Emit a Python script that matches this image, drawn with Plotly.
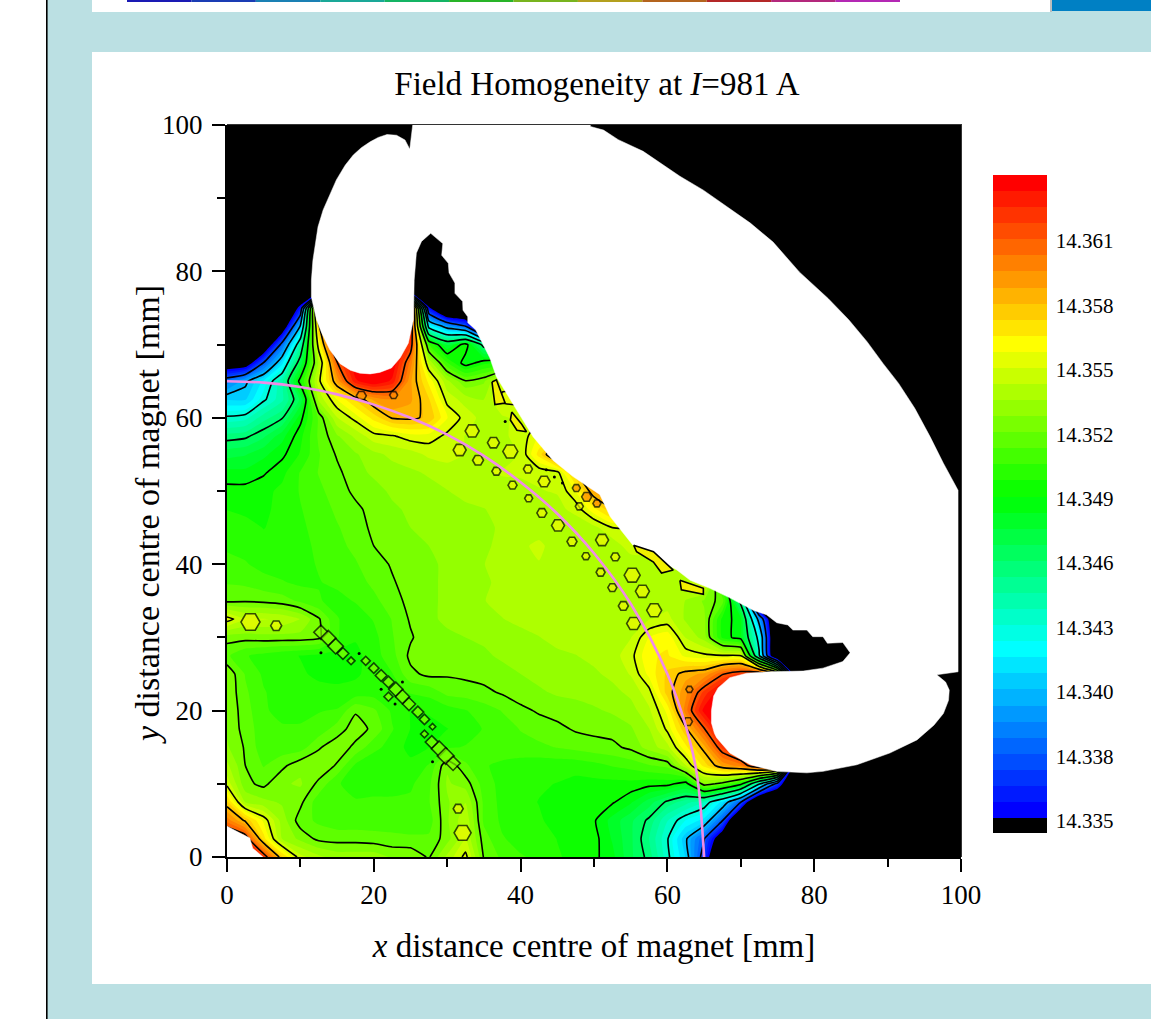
import plotly.graph_objects as go
from plotly.colors import sample_colorscale

# ---------- axes of the measured grid (mm) ----------
x_mm = [0,2.5,5,7.5,10,12.5,15,17.5,20,22.5,25,27.5,30,32.5,35,37.5,40,42.5,45,47.5,50,
        52.5,55,57.5,60,62.5,65,67.5,70,72.5,75,77.5,80,82.5,85,100]
y_mm = [0,2.5,5,7.5,10,12.5,15,17.5,20,22.5,25,27.5,30,32.5,35,37.5,40,42.5,45,47.5,50,
        52.5,55,57.5,60,62.5,65,67.5,70,72.5,75,77.5,80,100]

# ---------- field values, mT above 14.3 T ----------
FLOOR = 30
row_y00 = [63,63,62,57.5,54.8,54,53.5,53.5,53.5,53,53,52.3,54,55.6,52.3,51.5,51,50.8,50.3,50,49.7,49,47.5,46.3,44,41.5,37,30]
row_y02 = [63,62,57,53.8,52.9,52.2,52.1,52.1,52,51.9,51.8,51.8,52.8,54.5,52,51,50.7,50.6,50.2,50,49.8,48.7,47.5,45.9,43.8,41,38,33,30]
row_y05 = [60,58,55.8,53.5,52,51.5,51.2,51.2,51.2,51.2,51.2,51.3,53,54.4,51.5,50.8,50.5,50.3,50,49.7,49.6,48.5,47.5,46.4,44.5,43,42,38,30]
row_y07 = [57.6,53.8,53.3,53,52.6,51.2,51,51,51,51,51.1,51.6,53,53.8,51.5,50.7,50.4,50.2,50,49.8,49.8,49.6,48.9,47.7,46.4,45.5,44.5,42,38,30]
row_y10 = [55,52.6,52.2,53,53.2,52.2,51,50.7,50.8,50.8,50.8,51.5,53.2,52.8,51.3,50.7,50.5,50.3,50.2,50,50,50,50,49.8,49.8,49,53,52,50,44,37,30]
row_y12 = [54,52.4,51.6,52.2,52.9,53,52.3,50.8,50.3,50.3,50.4,51,53,51.8,51,50.8,50.6,50.5,50.5,50.5,50.7,51,51.2,51.6,51.9,54.5,57,59,60,63,63,30]
row_y15 = [53.2,52.3,51.2,51.2,51.3,52.3,52.9,52.2,51.2,50.6,50,50.2,50.8,51,51.1,51.3,51.4,51.5,51.7,51.9,52.1,52.2,52.6,53.4,54.3,56.5,58.6,62,64,64,64,30]
row_y17 = [53,52.1,51.2,51,51,51.2,52,52.8,52.2,51,50.2,50,50.2,50.5,51,51.3,51.7,52,52.2,52.5,52.6,52.7,53,53.8,55.5,58,61,64,64,64,64,30]
row_y20 = [53,52,51,50.8,50.8,50.9,51,52.3,51.8,50.8,50.2,50.3,50.6,50.9,51.3,51.7,52.2,52.5,52.7,52.8,53,53.2,53.5,54.4,56.2,60,63.5,64,64,64,64,30]
row_y22 = [53,51.8,51,50.6,50.4,50.4,50.4,50.5,50.6,50.8,51,51.2,51.9,52,52.2,52.5,52.8,53,53.2,53.3,53.4,53.6,54,55,57.8,59.3,62,64,64,64,64,30]
row_y25 = [53,51.6,50.8,50.5,50.3,50.1,50,50.1,50.5,50.9,52.2,52.6,52.5,52.6,52.7,52.9,53.1,53.3,53.4,53.6,53.7,54,54.6,56.2,57.6,58.6,59,61,62,63,58,30]
row_y27 = [51.8,51,50.7,50.4,50.2,50,49.9,50,50.6,51.4,52.6,52.7,52.8,52.9,53,53.2,53.4,53.5,53.7,53.8,54,54.2,55,56.6,56.8,55.8,55.5,55.4,55.3,44,30]
row_y30 = [52.7,52.7,52.8,52.8,52.8,52.6,51,50.3,50.7,51.6,52.3,52.9,53,53.1,53.2,53.4,53.6,53.8,54,54.1,54.2,54.4,54.5,56,56.5,54.5,53.5,50,49,43,30]
row_y32 = [55.7,54.6,54.6,54.4,53.8,52.5,51,50.5,51,51.7,52.5,53,53.2,53.4,53.6,53.8,54,54.1,54.2,54.3,54.3,54.3,54.4,54.5,54.8,53.7,53.3,50,49,40,30]
row_y35 = [52.2,52.3,52.2,52,51.5,51,50.7,51,51.5,52,52.7,53,53.2,53.5,53.8,54,54.2,54.3,54.3,54.3,54.3,54.3,54.3,54.2,54.2,53.8,53,52,46,30]
row_y37 = [51.6,51.5,51.2,51,50.8,50.9,51.1,51.4,51.8,52.3,52.8,53,53.2,53.4,53.7,54,54.3,54.4,54.3,54.2,54.2,54.1,54.2,54.2,54.3,54.2,55.4,50,30]
row_y40 = [51.2,51,50.7,50.6,50.7,51,51.3,51.6,52,52.5,52.9,53,53.2,53.5,53.8,54.2,54.4,54.5,54.3,54.1,54,54,54,54.1,54.5,55,30]
row_y42 = [50.8,50.7,50.4,50.4,50.7,51.1,51.5,51.8,52.4,52.8,53,53.1,53.2,53.5,53.7,54,54.4,54.7,54.2,54,54,54,55,55,30]
row_y45 = [50.6,50.4,50.2,50.4,50.8,51.2,51.6,52,52.6,52.9,53.1,53.2,53.3,53.5,53.7,53.9,54.1,54.2,54.1,54,54.3,55.3,55.3,30]
row_y47 = [50.2,50.1,50.1,50.4,50.9,51.3,51.8,52.2,52.7,53,53.2,53.4,53.5,53.7,53.8,54,54.1,54.2,54.3,54.8,56.5,58,58,30]
row_y50 = [49.8,49.8,50,50.4,51,51.5,52,52.6,52.9,53.2,53.4,53.6,53.8,54,54.1,54.3,54.4,54.5,54.6,56,59,60,30]
row_y52 = [49,49,49.4,50,51,51.7,52.2,52.9,53.2,53.5,53.7,53.9,54.1,54.3,54.4,54.6,54.6,54.7,55,58,60,60,30]
row_y55 = [47.8,48,48.6,49.3,50.3,51.6,52.5,53,53.6,54,54.2,54.7,54.9,54.5,54.3,54.2,54.6,57,60,60,30]
row_y57 = [46.2,46.4,47.2,48.5,50,51.8,53,54,55,55.2,55.7,55.7,55.1,54.5,54.2,54.4,54.8,56,56,30]
row_y60 = [43.9,44.2,45.6,46.5,49.2,51.8,54.5,55.6,57,58.3,58.4,58,56,55,54.2,54.4,54.8,55,30]
row_y62 = [41.5,41.5,43.5,45,47.5,54,56,57.5,59,59.5,59,57.5,55,54.2,53.8,55.5,55.5,30]
row_y65 = [39,40.5,42.5,45,50,55,59,63,64,63,59,56.5,54,52.5,53,55,55,30]
row_y67 = [33,33.5,38,42,47.5,54,61,64,64,64,60,54.5,51,49,50,50,30]
row_y70 = [30,30,32.5,38.5,45,56,64,64,64,64,62,51,48,50,46,46,30]
row_y72 = [30,30,30,33,41,58,64,64,64,64,63,43,40,38,30]
row_y75 = [30,30,30,30,36,60,64,64,64,64,64,35.5,30]
row_y77 = [30]
row_y80 = [30]
row_y100 = [30]
field_rows = [row_y00,row_y02,row_y05,row_y07,row_y10,row_y12,row_y15,row_y17,row_y20,row_y22,
              row_y25,row_y27,row_y30,row_y32,row_y35,row_y37,row_y40,row_y42,row_y45,row_y47,
              row_y50,row_y52,row_y55,row_y57,row_y60,row_y62,row_y65,row_y67,row_y70,row_y72,
              row_y75,row_y77,row_y80,row_y100]

# ---------- levels and colour bar ----------
level_start = 14.3351
level_size = 0.00072
level_count = 40
line_start = 14.3379
line_size = 0.0029
line_end = 14.3611
bar_min = 14.33443
bar_max = 14.3639
bar_tick_vals = [14.3350,14.33786,14.34075,14.34363,14.34652,14.3494,14.35229,14.35517,14.35806,14.36094]
bar_tick_text = ["14.335","14.338","14.340","14.343","14.346","14.349","14.352","14.355","14.358","14.361"]
band_colours = [[0,"#000000"],[1/40,"#0000ff"],[11/40,"#00ffff"],[20.5/40,"#00ff00"],[30/40,"#ffff00"],[1,"#ff0000"]]

# ---------- outline of the unmeasured (white) magnet region, mm ----------
magnet_x = [25.3,24.9,24.25,23.1,21.8,20.6,19.5,18.3,17.2,16.1,14.9,14.0,13.1,12.4,12.0,11.7,11.5,11.5,12.2,12.9,14.0,15.4,16.8,18.1,19.5,20.8,22.4,23.6,24.7,25.4,25.5,25.8,26.5,27.75,
            29.4,29.25,30.15,30.25,31.05,31.05,32.1,32.15,32.8,32.8,33.9,35.8,36.7,39.5,41.7,44.4,47.1,50.8,52.2,55.3,58.5,61.3,63.1,65.8,68.5,71.7,
            73.5,74.9,76.4,77.1,79.0,79.8,81.2,81.8,83.9,84.9,83.9,81.2,78.5,74.0,70.8,68.5,66.9,66.3,66.0,66.0,66.4,66.7,68.5,71.3,74.9,79.0,81.2,85.8,90.3,94.0,96.3,97.6,98.3,98.4,97.9,96.7,
            99.6,99.6,97.6,95.8,93.7,91.5,89.4,87.2,84.7,81.9,78.0,74.4,71.3,68.1,64.9,61.7,56.7,53.3,51.3,49.5,49.5]
magnet_y = [100,96.7,97.95,98.6,98.7,98.3,97.7,96.9,95.9,94.5,92.5,90.4,88.4,86.1,83.8,81.5,78.8,76.5,73.4,71.6,69.3,67.4,66.5,66.1,66.0,66.2,66.8,68.2,70.2,73.4,78.8,82.5,84.1,85.2,
            83.8,82.2,81.1,79.8,78.4,77.0,75.9,74.7,73.8,73.0,72.0,68.2,65.6,61.1,57.4,54.2,52.0,49.5,46.5,42.6,40.8,39.2,37.8,36.7,35.4,33.7,
            33.1,32.0,31.7,31.0,31.0,30.1,30.1,29.2,29.3,27.9,26.7,25.8,25.4,25.3,25.1,24.5,23.1,22.0,20.0,18.3,16.9,16.3,14.2,12.6,11.7,11.5,11.7,12.6,14.2,16.0,18.0,19.6,21.4,22.8,23.9,24.9,
            25.3,50.1,53.8,57.4,61.3,64.7,67.4,70.4,73.4,76.3,79.9,84.0,86.6,88.8,91.1,93.0,96.4,98.0,99.3,99.8,100]
corner_x = [0,0,1.7,3.1,3.5,4.9]
corner_y = [0,4.2,3.3,2.6,1.2,0]

# ---------- arc of radius 65 mm ----------
arc_x = [0,5,10,15,20,25,30,35,40,45,50,55,60,62.5,64,65]
arc_y = [65,64.8,64.2,63.2,61.8,60,57.7,54.8,51.2,46.9,41.5,34.6,25,17.9,11.4,0]

# ---------- small closed contour islands, mm ----------
island_x = [33.4,36.3,38.6,31.7,34.2,36.7,38.9,41,43.2,41.1,42.9,45.1,47,48.9,48,3.2,6.7,31.5,32.1,
            51.1,52.9,50.9,55.2,52.5,56.6,54,58.2,55.4]
island_y = [58.2,56.6,55.4,55.6,54.2,52.7,50.8,53,51.3,49,47,45.3,43.1,41.1,47.9,32.1,31.6,6.6,3.3,
            43.3,41,38.9,38.5,36.8,36.3,34.3,33.7,31.9]
island_size = [14,12,15,13,11,9,9,9,12,8,10,13,10,8,8,19,11,10,17,
               13,9,9,16,9,14,10,15,14]
chain_x = [12.8,13.8,14.8,15.8,16.9,18.9,20,21,22,23,23.9,24.8,26,26.9,28,26.9,27.9,28.9,29.8,30.8,22]
chain_y = [30.7,29.9,28.8,27.8,26.8,26.8,25.8,24.8,23.9,22.9,21.9,20.9,19.8,18.8,17.8,16.8,15.7,14.8,13.8,12.8,21.9]
chain_size = [11,12,12,9,6,7,8,9,9,11,11,10,9,8,5,6,10,12,13,11,7]
dot_x = [18,12.8,23.9,21,22.9,28,37.9,43.5,44.6,45.7]
dot_y = [27.8,27.9,23.9,22.9,20.9,13,59.5,52.9,51.9,51.1]
hot_x = [18.3,22.7,63,62.8,49,50.4,47.6]
hot_y = [63,63.1,22.9,18.5,49.2,48.3,50.4]
hot_size = [10,8,7,9,10,8,8]
edge_x = [55.4,58.1,60.8,59.2,58.1,55.8,55.4,None,61.7,64.9,64.9,61.9,61.7,None,36.1,36.7,37.9,36.5,36.1,None,38.8,40.1,40.8,39.5,38.6,38.8]
edge_y = [42.6,41.7,39.2,38.8,40.3,41.7,42.6,None,37.8,36.7,35.9,36.5,37.8,None,64.9,65.2,62,61.8,64.9,None,60.8,59.2,58.1,58.3,59.7,60.8]

# ---------- page furniture ----------
strip_colours = ["#1a1ab4","#1a3cb4","#1a80b4","#1aa898","#14b464","#28b428","#78b41e","#b4a01e","#b4641e","#b42828","#b4287c","#b428b4"]
TEAL = "#BBE0E3"
FONT = "Liberation Serif"
W, H = 1171, 1019
L, R, T, B = 227, 961, 125, 857

def px(v):
    return (v - L) / (R - L)
def py(v):
    return (B - v) / (B - T)
def box(x0, x1, y0, y1, colour, layer="below"):
    return dict(type="rect", xref="paper", yref="paper", layer=layer, x0=px(x0), x1=px(x1),
                y0=py(y0), y1=py(y1), fillcolor=colour, line=dict(width=0))

shapes = [box(47, 1151, 0, 1019, TEAL), box(46, 47.6, 0, 1019, "#000000"), box(92, 1151, 52, 984, "#FFFFFF"),
          box(92, 1050, 0, 12, "#FFFFFF"), box(1050, 1052, 0, 12, "#BDBDBD"), box(1052, 1151, 0, 11, "#0080C4"),
          box(227, 962, 124, 125, "#333333", "above"), box(961, 962, 124, 857, "#333333", "above")]
seg = (900 - 127) / len(strip_colours)
for k, c in enumerate(strip_colours):
    shapes.append(box(127 + k * seg, 127 + (k + 1) * seg, 0, 2, c))

grid_T = [[14.3 + v / 1000 for v in (r + [FLOOR] * (len(x_mm) - len(r)))] for r in field_rows]

# stepped colour bar: one flat band per contour level
band_rgb = sample_colorscale(band_colours, [k / 40 for k in range(41)])
bar_scale = []
for k, c in enumerate(band_rgb):
    lo = bar_min if k == 0 else level_start + (k - 1) * level_size
    hi = level_start + k * level_size
    bar_scale.append([(lo - bar_min) / (bar_max - bar_min), c])
    bar_scale.append([min(1, (hi - bar_min) / (bar_max - bar_min)), c])
bar_scale[-1][0] = 1

fig = go.Figure()
fig.add_trace(go.Contour(
    x=x_mm, y=y_mm, z=grid_T, colorscale=band_colours, autocontour=False, showscale=False,
    contours=dict(start=level_start, end=level_start + level_size * (level_count - 1), size=level_size,
                  coloring="fill", showlines=False),
    line=dict(width=0, smoothing=0.5), hoverinfo="skip",
))
fig.add_trace(go.Contour(
    x=x_mm, y=y_mm, z=grid_T, showscale=False, autocontour=False,
    contours=dict(start=line_start, end=line_end, size=line_size, coloring="none"),
    line=dict(color="#000000", width=1.6, smoothing=0.5), hoverinfo="skip",
))
fig.add_trace(go.Scatter(x=magnet_x, y=magnet_y, mode="lines", fill="toself", fillcolor="#FFFFFF",
                         line=dict(color="#FFFFFF", width=0.5), hoverinfo="skip", showlegend=False))
fig.add_trace(go.Scatter(x=corner_x, y=corner_y, mode="lines", fill="toself", fillcolor="#FFFFFF",
                         line=dict(color="#FFFFFF", width=0.5), hoverinfo="skip", showlegend=False))
fig.add_trace(go.Scatter(x=edge_x, y=edge_y, mode="lines", fill="toself", fillcolor="#F2F000",
                         line=dict(color="#000000", width=1.6), hoverinfo="skip", showlegend=False))
fig.add_trace(go.Scatter(x=island_x, y=island_y, mode="markers", hoverinfo="skip", showlegend=False,
                         marker=dict(symbol="hexagon2", size=island_size, color="#F0FA00", line=dict(color="#000000", width=1.6))))
fig.add_trace(go.Scatter(x=chain_x, y=chain_y, mode="markers", hoverinfo="skip", showlegend=False,
                         marker=dict(symbol="diamond", size=chain_size, color="#88FF00", line=dict(color="#000000", width=1.6))))
fig.add_trace(go.Scatter(x=dot_x, y=dot_y, mode="markers", hoverinfo="skip", showlegend=False,
                         marker=dict(symbol="circle", size=3, color="#000000")))
fig.add_trace(go.Scatter(x=hot_x, y=hot_y, mode="markers", hoverinfo="skip", showlegend=False,
                         marker=dict(symbol="hexagon2", size=hot_size, color="#FF8C00", line=dict(color="#000000", width=1.6))))
fig.add_trace(go.Scatter(x=arc_x, y=arc_y, mode="lines", hoverinfo="skip", showlegend=False,
                         line=dict(color="#F08CE6", width=2.6, shape="spline")))
fig.add_trace(go.Scatter(x=[None], y=[None], mode="markers", hoverinfo="skip", showlegend=False,
                         marker=dict(color=[14.35], cmin=bar_min, cmax=bar_max, colorscale=bar_scale, showscale=True,
                                     colorbar=dict(x=px(993), xanchor="left", xpad=0, y=py(833), yanchor="bottom", ypad=0,
                                                   len=658 / (B - T), lenmode="fraction", thickness=54, thicknessmode="pixels",
                                                   outlinewidth=0, tickmode="array", tickvals=bar_tick_vals, ticktext=bar_tick_text,
                                                   ticks="outside", ticklen=5, tickcolor="rgba(255,255,255,0)",
                                                   tickfont=dict(family=FONT, size=21, color="#000000")))))

axis_font = dict(family=FONT, size=27, color="#000000")
title_font = dict(family=FONT, size=33, color="#000000")
common = dict(range=[0, 100], tick0=0, dtick=20, ticks="outside", ticklen=13, tickwidth=2, tickcolor="#000000",
              showgrid=False, zeroline=False, showline=True, linecolor="#000000", linewidth=2, mirror=False,
              tickfont=axis_font, minor=dict(dtick=10, ticks="outside", ticklen=8, tickwidth=2, tickcolor="#000000", showgrid=False))
fig.update_layout(
    width=W, height=H, autosize=False, margin=dict(l=L, r=W - R, t=T, b=H - B),
    paper_bgcolor="#FFFFFF", plot_bgcolor="#000000", showlegend=False, shapes=shapes,
    title=dict(text="Field Homogeneity at <i>I</i>=981 A", x=597 / W, xanchor="center", y=1 - 83 / H, yanchor="middle",
               font=dict(family=FONT, size=33, color="#000000")),
    xaxis=dict(common, title=dict(text="<i>x</i> distance centre of magnet [mm]", font=title_font, standoff=24)),
    yaxis=dict(common, ticklabelstandoff=4),
    annotations=[dict(text="<i>y</i> distance centre of magnet [mm]", xref="paper", yref="paper", x=px(147), y=py(515),
                      xanchor="center", yanchor="middle", textangle=-90, showarrow=False,
                      font=dict(family=FONT, size=34, color="#000000"))],
)
fig.write_html("out.html", config=dict(displayModeBar=False),
               post_script="document.body.style.margin='0';document.body.style.overflow='hidden';")
